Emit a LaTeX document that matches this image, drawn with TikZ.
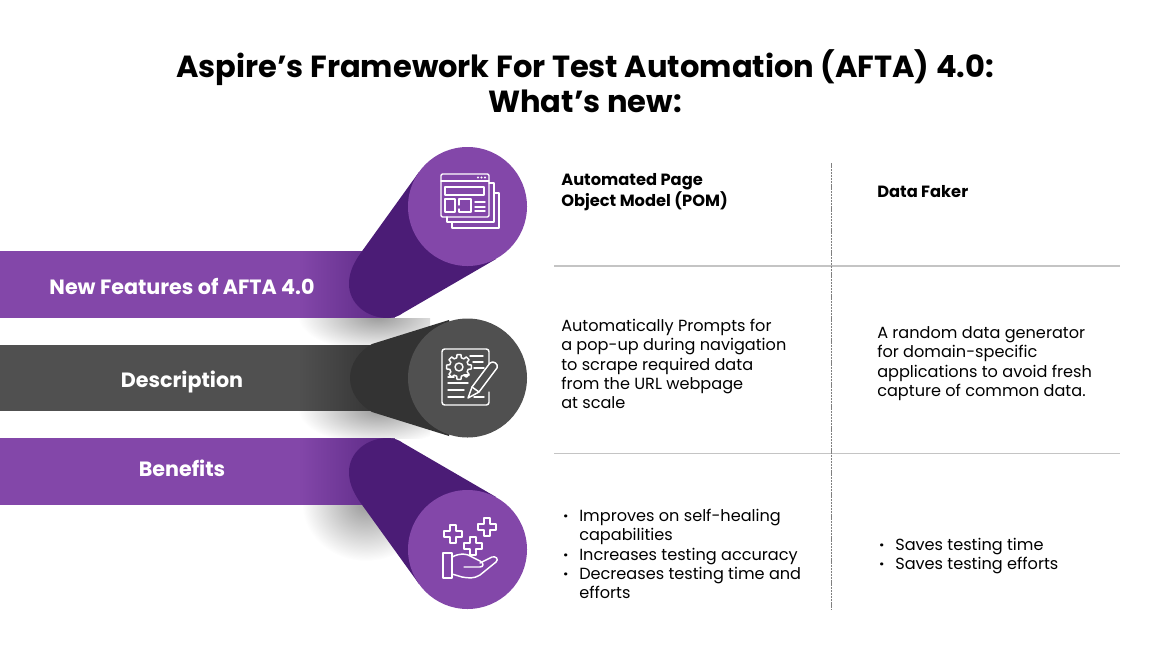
\documentclass[tikz,border=0pt]{standalone}
\usepackage{fontspec}
\setmainfont{Poppins}
\usetikzlibrary{calc,fadings}
\definecolor{barpurple}{HTML}{8347A9}
\definecolor{deeppurple}{HTML}{4B1C76}
\definecolor{bargrey}{HTML}{505050}
\definecolor{deepgrey}{HTML}{333333}
\definecolor{rulegrey}{HTML}{C4C4C4}
\tikzfading[name=softshadow, inner color=transparent!0, outer color=transparent!100]
\newcommand*{\tick}{\makebox[12pt][l]{\textbf{\textperiodcentered}}}
\newcommand*{\notick}{\hspace*{12pt}}
\newcommand*{\plusmark}[1]{%
  \draw[icon] ($(#1)+(-3,-9)$) -- ++(6,0) -- ++(0,6) -- ++(6,0) -- ++(0,6) -- ++(-6,0)
    -- ++(0,6) -- ++(-6,0) -- ++(0,-6) -- ++(-6,0) -- ++(0,-6) -- ++(6,0) -- cycle;
}
\begin{document}
\begin{tikzpicture}[x=0.75pt,y=-0.75pt,
    icon/.style={draw=white,line width=1.1pt,line join=round,line cap=round},
    disc/.style={circle,minimum size=89.25pt,inner sep=0pt},
    barlabel/.style={text=white,font=\fontsize{15.5}{18}\selectfont\bfseries},
    heading/.style={anchor=west,inner sep=0pt,align=left,font=\fontsize{12.2}{14.4}\selectfont\bfseries},
    body/.style={anchor=west,inner sep=0pt,align=left,font=\fontsize{12.1}{14.5}\selectfont},
    tablerule/.style={draw=rulegrey,line width=.9pt},
    midrule/.style={draw=gray,line width=.5pt,dash pattern=on .8pt off .3pt},
  ]
  \useasboundingbox (0,0) rectangle (1170,661);
  \node[font=\fontsize{22.9}{26}\selectfont\bfseries,align=center] (headline) at (585,81)
    {Aspire’s Framework For Test Automation (AFTA) 4.0:\\What’s new:};

  % shadows under the bars
  \foreach \sx/\sy/\srx/\sry/\top/\bottom in {378/316/80/36/318/345, 378/409/80/36/411/438, 366/503/64/58/505/570} {
    \begin{scope}
      \clip (290,\top) rectangle (430,\bottom);
      \fill[black,opacity=.4,path fading=softshadow] (\sx,\sy) ellipse ({\srx} and {\sry});
    \end{scope}
  }

  % bars
  \fill[barpurple] (0,251) rectangle (390,318);
  \fill[bargrey] (0,345) rectangle (390,411);
  \fill[barpurple] (0,438) rectangle (390,505);
  \fill[deeppurple,opacity=.75,path fading=west] (300,251) rectangle (395,318);
  \fill[deepgrey,path fading=west] (300,345) rectangle (385,411);
  \fill[deeppurple,opacity=.75,path fading=west] (300,438) rectangle (395,505);

  % sleeves running back from the discs
  \fill[deeppurple] (419,172) -- (360,254) .. controls (351,267) and (349,276) .. (349,284)
    .. controls (349,303) and (366,318) .. (388,318) .. controls (394,318) and (399,316) .. (403,313)
    -- (496,259) -- cycle;
  \fill[deepgrey] (449,320) -- (372,344) .. controls (358,352) and (350,365) .. (350,378)
    .. controls (350,391) and (358,404) .. (372,412) -- (449,436) -- cycle;
  \fill[deeppurple] (419,584) -- (360,502) .. controls (351,489) and (349,480) .. (349,472)
    .. controls (349,453) and (366,438) .. (388,438) .. controls (394,438) and (399,440) .. (403,443)
    -- (496,497) -- cycle;

  \node[disc,fill=barpurple] (pageDisc) at (467.5,206.5) {};
  \node[disc,fill=bargrey] (noteDisc) at (467.5,378) {};
  \node[disc,fill=barpurple] (handDisc) at (467.5,549.5) {};

  \node[barlabel] (newLabel) at (182,286) {New Features of AFTA 4.0};
  \node[barlabel] (descLabel) at (182,382) {Description};
  \node[barlabel] (benefitLabel) at (182,468) {Benefits};

  % page icon
  \draw[icon] (489,183) -- (494,183) -- (494,222) -- (447,222) -- (447,217);
  \draw[icon] (494,193) -- (499,193) -- (499,228) -- (452,228) -- (452,222);
  \draw[icon,rounded corners=1pt] (441,174) rectangle (489,217);
  \draw[icon] (441,181) -- (489,181);
  \foreach \dotx in {478,481.5,485} {
    \fill[white] (\dotx,177.5) circle (.8pt);
  }
  \draw[icon] (445,187) rectangle (484,195);
  \draw[icon] (445,199) rectangle (455,212);
  \draw[icon] (459,205) -- (459,199) -- (471,199) -- (471,212) -- (459,212) -- (459,209);
  \foreach \liney in {202,207,211} {
    \draw[icon] (475,\liney) -- (485,\liney);
  }

  % note icon
  \draw[icon,rounded corners=2pt] (489,370) -- (489,349) -- (442,349) -- (442,405) -- (489,405) -- (489,392);
  \draw[icon] (459,367) circle (3pt);
  \draw[icon] ($(459,367)+(-9:12.5)$) \foreach \gearangle in {0,45,...,315} {
    -- ($(459,367)+(\gearangle-9:12.5)$) -- ($(459,367)+(\gearangle+9:12.5)$)
    -- ($(459,367)+(\gearangle+14:9.5)$) -- ($(459,367)+(\gearangle+31:9.5)$)
  } -- cycle;
  \foreach \nx/\ny/\mx in {470/356/483, 473/362/483, 474/368/484, 448/377/454, 464/375/469, 448/383/468, 448/390/464, 448/397/464, 474/397/484} {
    \draw[icon] (\nx,\ny) -- (\mx,\ny);
  }
  \draw[icon,fill=bargrey] (468,398) -- (472,387) -- (490,363) .. controls (493,360) and (499,364) .. (497,368)
    -- (479,392) -- cycle;
  \draw[icon] (472,387) -- (479,392);

  % hand icon
  \plusmark{453,534}
  \plusmark{487,527}
  \plusmark{473,546}
  \draw[icon] (443,553) rectangle (452,578);
  \draw[icon] (452,557) .. controls (460,553) and (466,553) .. (472,557) -- (480,561)
    .. controls (484,563) and (484,567) .. (480,567) -- (464,567);
  \draw[icon] (480,563) -- (492,557) .. controls (496,556) and (499,559) .. (496,562)
    -- (480,575) .. controls (474,579) and (468,578) .. (462,577) -- (452,574);

  % table
  \coordinate (midTop) at (831,163);
  \coordinate (midEnd) at (831,610);
  \coordinate (ruleOneL) at (554,266);
  \coordinate (ruleOneR) at (1120,266);
  \coordinate (ruleTwoL) at (554,453.5);
  \coordinate (ruleTwoR) at (1120,453.5);
  \draw[tablerule] (ruleOneL) -- (ruleOneR);
  \draw[tablerule] (ruleTwoL) -- (ruleTwoR);
  \draw[midrule] (midTop) -- (midEnd);

  \node[heading] (pomHead) at (561,192) {Automated Page\\Object Model (POM)};
  \node[heading] (fakerHead) at (877,192) {Data Faker};
  \node[body] (pomDesc) at (561,364) {Automatically Prompts for\\a pop-up during navigation\\to scrape required data\\from the URL webpage\\at scale};
  \node[body] (fakerDesc) at (877,363.5) {A random data generator\\for domain-specific\\applications to avoid fresh\\capture of common data.};
  \node[body] (pomGain) at (563,554) {\tick Improves on self-healing\\\notick capabilities\\\tick Increases testing accuracy\\\tick Decreases testing time and\\\notick efforts};
  \node[body] (fakerGain) at (879,556) {\tick Saves testing time\\\tick Saves testing efforts};
\end{tikzpicture}
\end{document}
